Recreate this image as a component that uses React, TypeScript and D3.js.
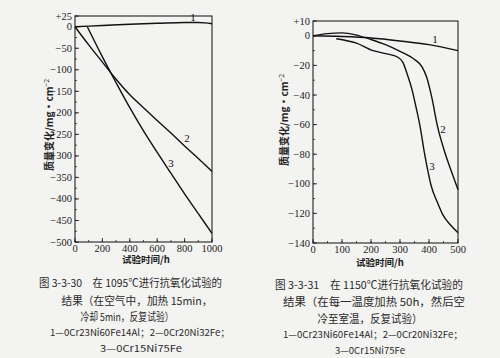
import React from "react";
import * as d3 from "d3";

// ---------- Data: left chart (1095 °C) ----------
const leftXTicks = [0, 200, 400, 600, 800, 1000];
const leftYTicks = [25, 0, -50, -100, -150, -200, -250, -300, -350, -400, -450, -500];
const leftS1X = [0, 200, 400, 600, 800, 900, 950, 1000];
const leftS1Y = [0, 3, 6, 8, 10, 10, 9, 7];
const leftS2X = [0, 100, 200, 300, 400, 500, 600, 700, 800, 900, 1000];
const leftS2Y = [0, -42, -82, -122, -158, -188, -218, -247, -277, -306, -336];
const leftS3X = [90, 200, 300, 400, 500, 600, 700, 800, 900, 1000];
const leftS3Y = [0, -70, -130, -188, -242, -292, -340, -388, -434, -480];

// ---------- Data: right chart (1150 °C) ----------
const rightXTicks = [0, 100, 200, 300, 400, 500];
const rightYTicks = [10, 0, -20, -40, -60, -80, -100, -120, -140];
const rightS1X = [0, 100, 200, 300, 400, 500];
const rightS1Y = [0, -0.5, -1.5, -3.5, -6, -10];
const rightS2X = [0, 50, 100, 150, 200, 250, 300, 350, 376, 392, 410, 428, 455, 478, 500];
const rightS2Y = [0, 1.5, 2, 0.5, -2.5, -6, -10.5, -16, -21, -28, -42, -60, -79, -92, -104];
const rightS3X = [80, 150, 207, 250, 293, 310, 325, 341, 355, 369, 385, 400, 407, 430, 448, 475, 500];
const rightS3Y = [-2, -5, -10, -12, -14.5, -18, -26, -36, -48, -61, -80, -95, -101, -113, -121, -128, -133];

const leftCaption = [
  "图 3-3-30　在 1095℃进行抗氧化试验的",
  "结果（在空气中，加热 15min，",
  "冷却 5min，反复试验）",
  "1—0Cr23Ni60Fe14Al；2—0Cr20Ni32Fe；",
  "3—0Cr15Ni75Fe",
];
const rightCaption = [
  "图 3-3-31　在 1150℃进行抗氧化试验的",
  "结果（在每一温度加热 50h，然后空",
  "冷至室温，反复试验）",
  "1—0Cr23Ni60Fe14Al；2—0Cr20Ni32Fe；",
  "3—0Cr15Ni75Fe",
];
const yTitle = "质量变化/mg·cm";
const xTitle = "试验时间/h";

const serif = "'Liberation Serif', 'DejaVu Serif', serif";
const cjk = "'Noto Sans CJK SC', sans-serif";

type Panel = {
  xDomain: [number, number];
  yDomain: [number, number];
  xRange: [number, number];
  yRange: [number, number];
  xTicks: number[];
  yTicks: number[];
  xMinorStep: number;
  yMinorStep: number;
  series: { x: number[]; y: number[] }[];
  labels: { text: string; x: number; y: number }[];
  yTitleX: number;
  yTitleY: number;
  xTitleX: number;
  xTitleY: number;
};

function fmt(v: number) {
  if (v > 0) return "+" + v;
  if (v < 0) return "−" + Math.abs(v);
  return "0";
}

function ChartPanel({ p }: { p: Panel }) {
  const x = d3.scaleLinear().domain(p.xDomain).range(p.xRange);
  const y = d3.scaleLinear().domain(p.yDomain).range(p.yRange);
  const line = d3
    .line<[number, number]>()
    .x((d) => x(d[0]))
    .y((d) => y(d[1]))
    .curve(d3.curveMonotoneX);
  const [x0, x1] = p.xRange;
  const [yTop, yBot] = p.yRange;
  const xMinor = d3.range(p.xDomain[0], p.xDomain[1] + 1e-9, p.xMinorStep);
  const yMinor = d3.range(p.yDomain[1], p.yDomain[0] + 1e-9, p.yMinorStep);
  return (
    <g>
      <rect x={x0} y={yTop} width={x1 - x0} height={yBot - yTop} fill="none" stroke="#222" strokeWidth={1.1} />
      {xMinor.map((v) => (
        <line key={"xm" + v} x1={x(v)} x2={x(v)} y1={yBot} y2={yBot - 2} stroke="#222" strokeWidth={0.8} />
      ))}
      {p.xTicks.map((v) => (
        <g key={"xt" + v}>
          <line x1={x(v)} x2={x(v)} y1={yBot} y2={yBot - 4} stroke="#222" strokeWidth={0.9} />
          <text x={x(v)} y={yBot + 9.5} textAnchor="middle" fontFamily={serif} fontSize={10.5} fill="#222">
            {v}
          </text>
        </g>
      ))}
      {yMinor.map((v) => (
        <line key={"ym" + v} x1={x0} x2={x0 + 2} y1={y(v)} y2={y(v)} stroke="#222" strokeWidth={0.8} />
      ))}
      {p.yTicks.map((v) => (
        <g key={"yt" + v}>
          <line x1={x0} x2={x0 + 4} y1={y(v)} y2={y(v)} stroke="#222" strokeWidth={0.9} />
          <text x={x0 - 3} y={y(v) + 3.5} textAnchor="end" fontFamily={serif} fontSize={10.5} fill="#222">
            {fmt(v)}
          </text>
        </g>
      ))}
      {p.series.map((s, i) => (
        <path
          key={"s" + i}
          d={line(s.x.map((xv, j) => [xv, s.y[j]] as [number, number])) || ""}
          fill="none"
          stroke="#111"
          strokeWidth={1.4}
        />
      ))}
      {p.labels.map((l, i) => (
        <text key={"l" + i} x={l.x} y={l.y} textAnchor="middle" fontFamily={serif} fontSize={11} fill="#111">
          {l.text}
        </text>
      ))}
      <text
        transform={`translate(${p.yTitleX},${p.yTitleY}) rotate(-90)`}
        textAnchor="middle"
        fontFamily={cjk}
        fontSize={10}
        fontWeight={700}
        fill="#222"
      >
        {yTitle}
        <tspan fontSize={7} dy={-4} fontWeight={400}>
          −2
        </tspan>
      </text>
      <text x={p.xTitleX} y={p.xTitleY} textAnchor="middle" fontFamily={cjk} fontSize={9.5} fontWeight={700} fill="#222">
        {xTitle}
      </text>
    </g>
  );
}

function Caption({
  lines,
  centers,
  widths,
  ys,
}: {
  lines: string[];
  centers: number[];
  widths: number[];
  ys: number[];
}) {
  return (
    <g>
      {lines.map((t, i) => (
        <text
          key={i}
          x={centers[i]}
          y={ys[i]}
          textAnchor="middle"
          fontFamily={cjk}
          fontSize={i < 3 ? 11 : 9.5}
          textLength={widths[i]}
          lengthAdjust="spacingAndGlyphs"
          fill="#2a2a2a"
        >
          {t}
        </text>
      ))}
    </g>
  );
}

export default function App() {
  const left: Panel = {
    xDomain: [0, 1000],
    yDomain: [25, -500],
    xRange: [75, 212],
    yRange: [16, 242],
    xTicks: leftXTicks,
    yTicks: leftYTicks,
    xMinorStep: 100,
    yMinorStep: 25,
    series: [
      { x: leftS1X, y: leftS1Y },
      { x: leftS2X, y: leftS2Y },
      { x: leftS3X, y: leftS3Y },
    ],
    labels: [
      { text: "1", x: 193, y: 21 },
      { text: "2", x: 187, y: 142 },
      { text: "3", x: 171, y: 167 },
    ],
    yTitleX: 53,
    yTitleY: 125,
    xTitleX: 146,
    xTitleY: 263,
  };
  const right: Panel = {
    xDomain: [0, 500],
    yDomain: [10, -140],
    xRange: [313, 458],
    yRange: [21, 243],
    xTicks: rightXTicks,
    yTicks: rightYTicks,
    xMinorStep: 50,
    yMinorStep: 10,
    series: [
      { x: rightS1X, y: rightS1Y },
      { x: rightS2X, y: rightS2Y },
      { x: rightS3X, y: rightS3Y },
    ],
    labels: [
      { text: "1", x: 435, y: 43 },
      { text: "2", x: 443, y: 133 },
      { text: "3", x: 432, y: 170 },
    ],
    yTitleX: 288,
    yTitleY: 120,
    xTitleX: 380,
    xTitleY: 266,
  };
  return (
    <svg
      width={500}
      height={358}
      viewBox="0 0 500 358"
      style={{ position: "absolute", left: 0, top: 0, background: "#f3f3f1" }}
    >
      <rect x={0} y={0} width={500} height={358} fill="#f3f3f1" />
      <ChartPanel p={left} />
      <ChartPanel p={right} />
      <Caption
        lines={leftCaption}
        centers={[130.5, 137, 127, 140, 141]}
        widths={[183, 151, 93, 180, 82]}
        ys={[287, 305, 321, 336, 352]}
      />
      <Caption
        lines={rightCaption}
        centers={[369, 374, 370, 373, 370]}
        widths={[188, 182, 105, 180, 70]}
        ys={[289, 306, 323, 338, 354]}
      />
    </svg>
  );
}
